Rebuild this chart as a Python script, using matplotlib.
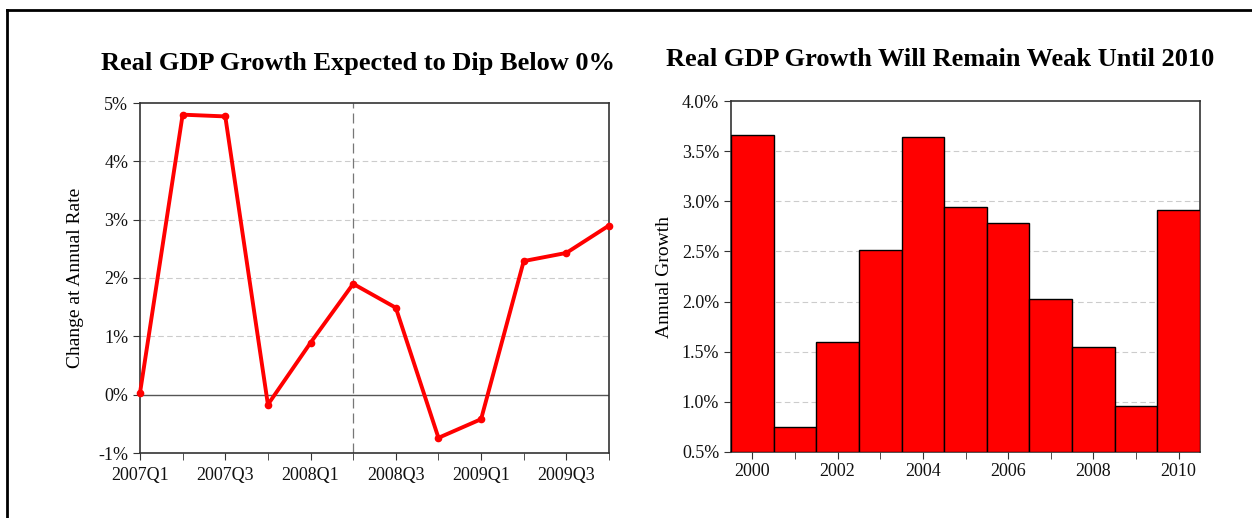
import matplotlib.pyplot as plt
from matplotlib.lines import Line2D
from matplotlib.ticker import FuncFormatter, MultipleLocator

# quarterly real GDP growth (annual rate, %)
quarters = ['2007Q1', '2007Q2', '2007Q3', '2007Q4',
            '2008Q1', '2008Q2', '2008Q3', '2008Q4',
            '2009Q1', '2009Q2', '2009Q3', '2009Q4']
qtr_growth = [0.03, 4.80, 4.77, -0.17, 0.89, 1.90, 1.49, -0.74,
              -0.42, 2.29, 2.43, 2.90]

# annual real GDP growth (%)
years = [2000, 2001, 2002, 2003, 2004, 2005, 2006, 2007, 2008, 2009, 2010]
annual_growth = [3.66, 0.75, 1.60, 2.51, 3.64, 2.94, 2.78, 2.03, 1.55, 0.96, 2.91]

plt.rcParams['font.family'] = ['Liberation Serif', 'DejaVu Serif']

fig = plt.figure(figsize=(12.52, 5.18), dpi=100)

# outer frame (left and top edges visible)
fig.add_artist(Line2D([7 / 1252, 7 / 1252], [0, 1 - 10 / 518],
                      transform=fig.transFigure, color='black', lw=2))
fig.add_artist(Line2D([7 / 1252, 1], [1 - 10 / 518, 1 - 10 / 518],
                      transform=fig.transFigure, color='black', lw=2))

spine_col = '#333333'

# ---- left: quarterly line ----
ax1 = fig.add_axes([140 / 1252, 1 - 453 / 518, 469 / 1252, 350 / 518])
x = list(range(len(quarters)))
ax1.plot(x, qtr_growth, color='#ff0000', lw=2.8, marker='o', ms=4.5,
         clip_on=False, zorder=5)
ax1.set_xlim(0, len(quarters) - 1)
ax1.set_ylim(-1, 5)
ax1.set_yticks(range(-1, 6))
ax1.yaxis.set_major_formatter(FuncFormatter(lambda v, p: '%d%%' % v))
ax1.set_xticks(x[::2])
ax1.set_xticklabels(quarters[::2])
ax1.set_xticks(x, minor=True)
for v in range(1, 5):
    ax1.axhline(v, color='#cccccc', lw=0.8, ls=(0, (5, 3)), zorder=1)
ax1.axhline(0, color='#555555', lw=1, zorder=2)
ax1.axvline(5, color='#777777', lw=0.9, ls=(0, (8, 4)), zorder=2)
ax1.set_ylabel('Change at Annual Rate', fontsize=14, labelpad=10)
ax1.set_title('Real GDP Growth Expected to Dip Below 0%', fontsize=19,
              fontweight='bold', pad=24, x=0.465)

# ---- right: annual bars ----
ax2 = fig.add_axes([731 / 1252, 1 - 452 / 518, 469 / 1252, 351 / 518])
base = 0.5
ax2.bar(years, [v - base for v in annual_growth], bottom=base, width=1.0,
        color='#ff0000', edgecolor='black', lw=1, zorder=3)
ax2.set_xlim(1999.5, 2010.5)
ax2.set_ylim(0.5, 4.0)
ax2.yaxis.set_major_locator(MultipleLocator(0.5))
ax2.yaxis.set_major_formatter(FuncFormatter(lambda v, p: '%.1f%%' % v))
ax2.set_xticks(years[::2])
ax2.set_xticks(years, minor=True)
for v in [1.0, 1.5, 2.0, 2.5, 3.0, 3.5]:
    ax2.axhline(v, color='#cccccc', lw=0.8, ls=(0, (5, 3)), zorder=1)
ax2.set_ylabel('Annual Growth', fontsize=14, labelpad=6)
ax2.set_title('Real GDP Growth Will Remain Weak Until 2010', fontsize=19,
              fontweight='bold', pad=25, x=0.446)

for ax in (ax1, ax2):
    for s in ax.spines.values():
        s.set_color(spine_col)
        s.set_linewidth(1.2)
    ax.tick_params(axis='both', which='both', direction='out', colors=spine_col,
                   labelcolor='#111111', labelsize=13, top=False, right=False)
    ax.tick_params(axis='both', which='major', length=5)
    ax.tick_params(axis='x', which='minor', length=5)

ax1.tick_params(axis='x', pad=5)
ax2.tick_params(axis='x', pad=3)

fig.savefig('out.png', dpi=100)
